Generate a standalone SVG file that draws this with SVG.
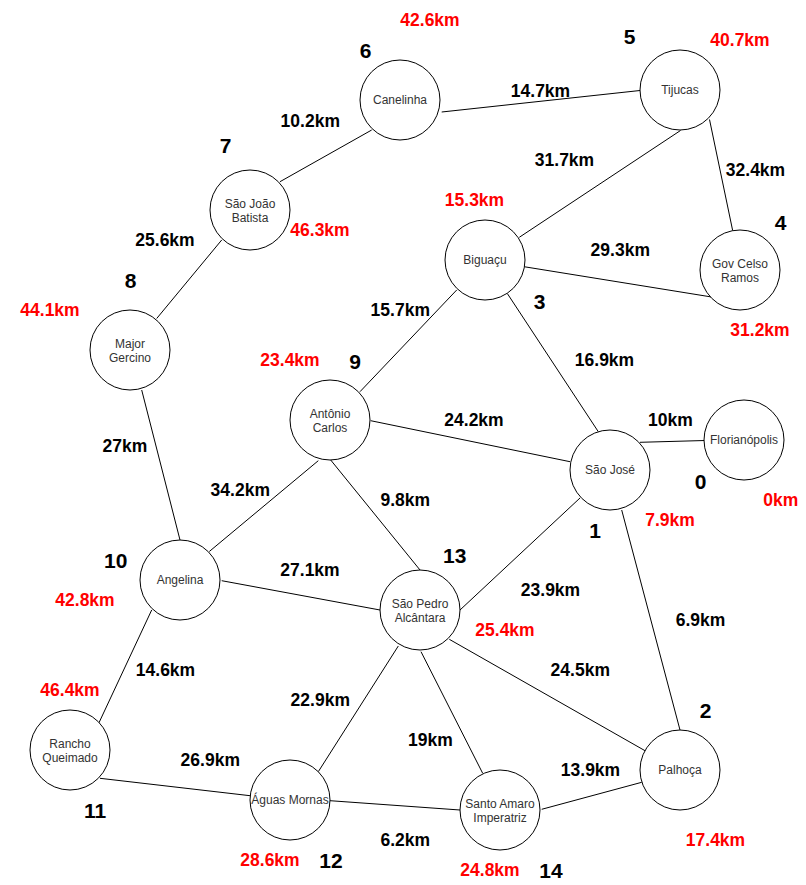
<svg xmlns="http://www.w3.org/2000/svg" width="806" height="885" viewBox="0 0 806 885">
<style>
.bg{fill:#ffffff}
.node circle{fill:#ffffff;stroke:#000000;stroke-width:1}
.node text{font-family:"Liberation Sans",Arial,Helvetica,sans-serif;font-size:12px;fill:#333333;text-anchor:middle}
.edges line{stroke:#000000;stroke-width:1}
.el{font-family:"Liberation Sans",Arial,Helvetica,sans-serif;font-size:17.5px;font-weight:bold;fill:#000000;text-anchor:middle}
.dist{font-family:"Liberation Sans",Arial,Helvetica,sans-serif;font-size:17.5px;font-weight:bold;fill:#ff0000;text-anchor:middle}
.num{font-family:"Liberation Sans",Arial,Helvetica,sans-serif;font-size:21px;font-weight:bold;fill:#000000;text-anchor:middle}
</style>
<rect class="bg" x="0" y="0" width="806" height="885"/>
<g id="connectors" class="edges">
<line x1="441.7" y1="112" x2="640" y2="90.5"/>
<line x1="371.7" y1="130" x2="280" y2="181.7"/>
<line x1="221.7" y1="240" x2="156.7" y2="318.5"/>
<line x1="709.5" y1="119.5" x2="732.7" y2="230.7"/>
<line x1="680.5" y1="130.5" x2="519.3" y2="237.3"/>
<line x1="524" y1="266.7" x2="711.7" y2="297"/>
<line x1="507.3" y1="293.5" x2="598.3" y2="431.7"/>
<line x1="456.7" y1="290" x2="360" y2="391.7"/>
<line x1="370.7" y1="420.7" x2="570" y2="461.7"/>
<line x1="640" y1="442.3" x2="705" y2="440.5"/>
<line x1="141.7" y1="390" x2="180" y2="540"/>
<line x1="318.3" y1="460.7" x2="209.3" y2="551.5"/>
<line x1="330.7" y1="460" x2="420" y2="570"/>
<line x1="221.7" y1="580.7" x2="380" y2="610"/>
<line x1="580" y1="498" x2="460" y2="610"/>
<line x1="621.7" y1="510" x2="680" y2="730"/>
<line x1="449.3" y1="639.3" x2="645" y2="750.7"/>
<line x1="398.3" y1="646" x2="318.3" y2="771.7"/>
<line x1="421" y1="651.7" x2="482.7" y2="773.3"/>
<line x1="100" y1="778.3" x2="250" y2="795.7"/>
<line x1="330" y1="800.7" x2="460" y2="810"/>
<line x1="541.7" y1="809.3" x2="641.7" y2="782.3"/>
<line x1="151.7" y1="610" x2="99" y2="722.7"/>
</g>
<g id="edge-labels">
<text class="el" x="540.5" y="96.7">14.7km</text>
<text class="el" x="310.3" y="126.7">10.2km</text>
<text class="el" x="755.5" y="176">32.4km</text>
<text class="el" x="564.5" y="165.7">31.7km</text>
<text class="el" x="620.3" y="255.7">29.3km</text>
<text class="el" x="165" y="246">25.6km</text>
<text class="el" x="400.3" y="315.7">15.7km</text>
<text class="el" x="604.5" y="366">16.9km</text>
<text class="el" x="474" y="425.7">24.2km</text>
<text class="el" x="670.5" y="426">10km</text>
<text class="el" x="125" y="451.7">27km</text>
<text class="el" x="240.3" y="496">34.2km</text>
<text class="el" x="405.3" y="506">9.8km</text>
<text class="el" x="310" y="575.7">27.1km</text>
<text class="el" x="550.5" y="595.7">23.9km</text>
<text class="el" x="700.5" y="626">6.9km</text>
<text class="el" x="580.3" y="675.7">24.5km</text>
<text class="el" x="165.5" y="675.7">14.6km</text>
<text class="el" x="320.3" y="706">22.9km</text>
<text class="el" x="430.5" y="745.7">19km</text>
<text class="el" x="590.5" y="775.7">13.9km</text>
<text class="el" x="210.3" y="766">26.9km</text>
<text class="el" x="405.3" y="845.7">6.2km</text>
</g>
<g id="distances">
<text class="dist" x="430" y="25.5">42.6km</text>
<text class="dist" x="740" y="46">40.7km</text>
<text class="dist" x="760" y="336">31.2km</text>
<text class="dist" x="320" y="236">46.3km</text>
<text class="dist" x="50" y="315.5">44.1km</text>
<text class="dist" x="290" y="365.5">23.4km</text>
<text class="dist" x="474.5" y="206">15.3km</text>
<text class="dist" x="670" y="526">7.9km</text>
<text class="dist" x="780.7" y="506">0km</text>
<text class="dist" x="85" y="606">42.8km</text>
<text class="dist" x="70" y="695.5">46.4km</text>
<text class="dist" x="270" y="865.5">28.6km</text>
<text class="dist" x="505" y="636">25.4km</text>
<text class="dist" x="715.5" y="845.5">17.4km</text>
<text class="dist" x="490" y="875.7">24.8km</text>
</g>
<g id="numbers">
<text class="num" x="365.5" y="58.3">6</text>
<text class="num" x="629.5" y="43.5">5</text>
<text class="num" x="780.5" y="229.5">4</text>
<text class="num" x="225.5" y="153.3">7</text>
<text class="num" x="130.5" y="288.3">8</text>
<text class="num" x="355" y="368.5">9</text>
<text class="num" x="539.5" y="308.5">3</text>
<text class="num" x="700.5" y="489">0</text>
<text class="num" x="595" y="538.3">1</text>
<text class="num" x="115.7" y="568.3">10</text>
<text class="num" x="95" y="818.3">11</text>
<text class="num" x="331" y="868.3">12</text>
<text class="num" x="454.7" y="563.3">13</text>
<text class="num" x="705.5" y="718.3">2</text>
<text class="num" x="551" y="878.3">14</text>
</g>
<g id="node-florianopolis" class="node"><circle cx="744" cy="440" r="40"/><text x="744" y="444.3">Florianópolis</text></g>
<g id="node-sao-jose" class="node"><circle cx="610" cy="470" r="40"/><text x="610" y="474.3">São José</text></g>
<g id="node-palhoca" class="node"><circle cx="680" cy="770" r="40"/><text x="680" y="774.3">Palhoça</text></g>
<g id="node-biguacu" class="node"><circle cx="485" cy="260" r="40"/><text x="485" y="264.3">Biguaçu</text></g>
<g id="node-gov-celso-ramos" class="node"><circle cx="740" cy="270" r="40"/><text x="740" y="268">Gov Celso</text><text x="740" y="281.5">Ramos</text></g>
<g id="node-tijucas" class="node"><circle cx="680" cy="90" r="40"/><text x="680" y="94.3">Tijucas</text></g>
<g id="node-canelinha" class="node"><circle cx="400" cy="100" r="40"/><text x="400" y="104.3">Canelinha</text></g>
<g id="node-sao-joao-batista" class="node"><circle cx="250" cy="210" r="40"/><text x="250" y="208">São João</text><text x="250" y="221.5">Batista</text></g>
<g id="node-major-gercino" class="node"><circle cx="130" cy="350" r="40"/><text x="130" y="348">Major</text><text x="130" y="361.5">Gercino</text></g>
<g id="node-antonio-carlos" class="node"><circle cx="330" cy="420" r="40"/><text x="330" y="418">Antônio</text><text x="330" y="431.5">Carlos</text></g>
<g id="node-angelina" class="node"><circle cx="180" cy="580" r="40"/><text x="180" y="584.3">Angelina</text></g>
<g id="node-rancho-queimado" class="node"><circle cx="70" cy="750" r="40"/><text x="70" y="748">Rancho</text><text x="70" y="761.5">Queimado</text></g>
<g id="node-aguas-mornas" class="node"><circle cx="290" cy="800" r="40"/><text x="290" y="804.3">Águas Mornas</text></g>
<g id="node-sao-pedro-alcantara" class="node"><circle cx="420" cy="610" r="40"/><text x="420" y="608">São Pedro</text><text x="420" y="621.5">Alcântara</text></g>
<g id="node-santo-amaro-imperatriz" class="node"><circle cx="500" cy="810" r="40"/><text x="500" y="808">Santo Amaro</text><text x="500" y="821.5">Imperatriz</text></g>
</svg>
